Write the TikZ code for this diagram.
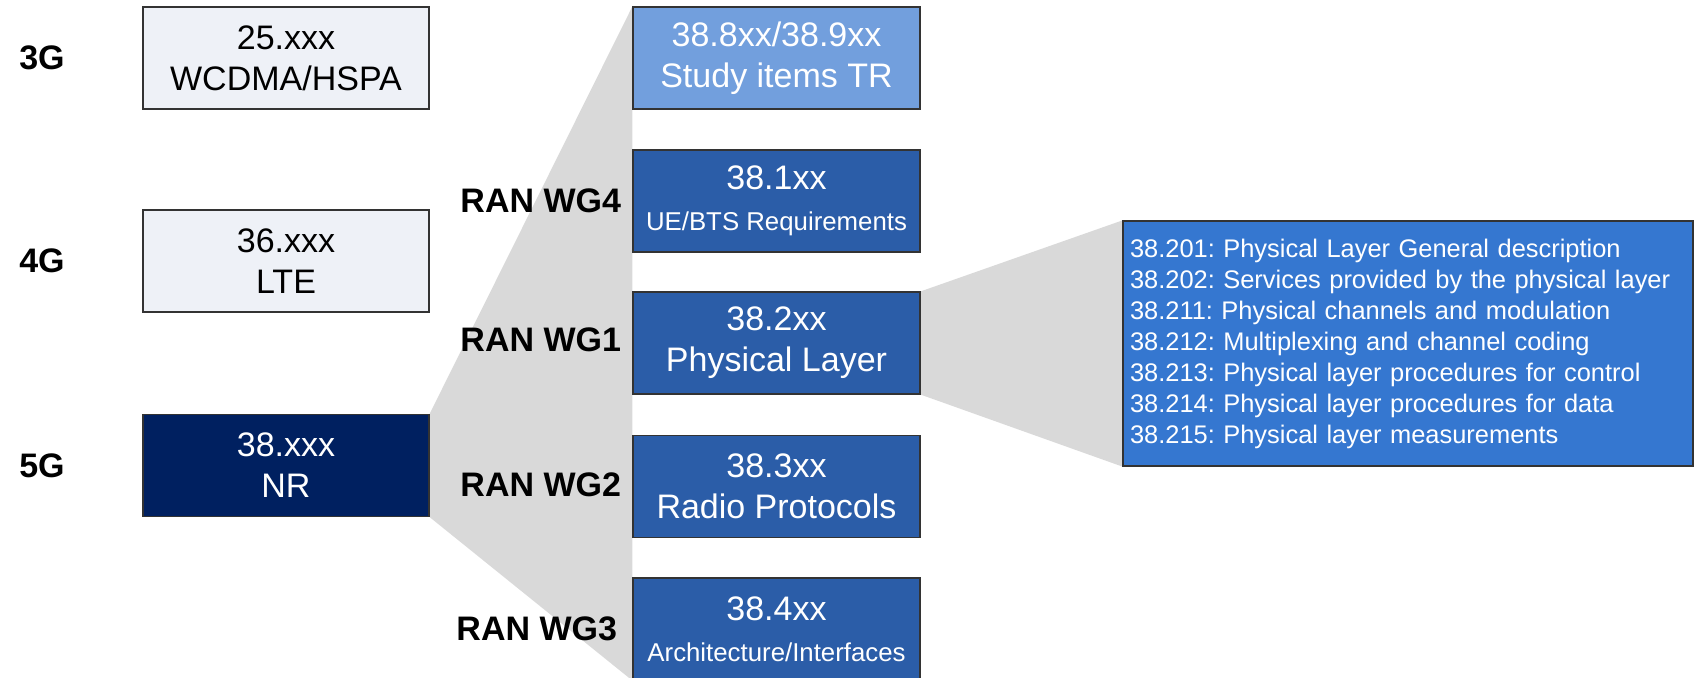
\documentclass[tikz,border=0pt]{standalone}
\usepackage{fontspec}
\setmainfont{Liberation Sans}
\usetikzlibrary{positioning,backgrounds}
\definecolor{oldfill}{HTML}{EEF1F7}
\definecolor{nrblue}{HTML}{002060}
\definecolor{siblue}{HTML}{729FDD}
\definecolor{wgblue}{HTML}{2B5DA8}
\definecolor{descblue}{HTML}{3577D0}
\definecolor{fangray}{HTML}{D9D9D9}
\newcommand{\mainfs}{\fontsize{17}{20.4}\selectfont}
\newcommand{\smallfs}{\fontsize{12.9}{15.5}\selectfont}
\newcommand{\descfs}{\fontsize{12.72}{15.5}\selectfont\frenchspacing}
\tikzset{
  genbox/.style={draw=black!80, line width=0.6pt, minimum width=143pt, minimum height=51pt, align=center, font=\mainfs, inner sep=0pt},
  oldbox/.style={genbox, fill=oldfill, text=black},
  nrbox/.style={genbox, fill=nrblue, text=white},
  specbox/.style={genbox, minimum width=143.5pt, fill=wgblue, text=white},
  grp/.style={font=\bfseries\mainfs, inner sep=0pt},
  fan/.style={fill=fangray, draw=none}
}
\begin{document}
\begin{tikzpicture}[x=0.5pt, y=-0.5pt]
\useasboundingbox (0,0) rectangle (1700,678);

% generations
\node[oldbox] (g3box) at (286,58) {25.xxx\\WCDMA/HSPA};
\node[oldbox] (g4box) at (286,261) {36.xxx\\LTE};
\node[nrbox] (g5box) at (286,465.5) {38.xxx\\NR};
\node[grp] (g3) at (42,58) {3G};
\node[grp] (g4) at (42,261) {4G};
\node[grp] (g5) at (42,465.5) {5G};

% 38 series
\node[specbox, fill=siblue] (s8) at (776.5,58) {38.8xx/38.9xx\\Study items TR};
\node[specbox] (s1) at (776.5,201) {38.1xx\\{\smallfs UE/BTS Requirements}};
\node[specbox] (s2) at (776.5,343) {38.2xx\\Physical Layer};
\node[specbox] (s3) at (776.5,486.5) {38.3xx\\Radio Protocols};
\node[specbox] (s4) at (776.5,629) {38.4xx\\{\smallfs Architecture/Interfaces}};

\node[grp, left=5.5pt of s1] (wg4) {RAN WG4};
\node[grp, left=5.5pt of s2, yshift=1.5pt] (wg1) {RAN WG1};
\node[grp, left=5.5pt of s3, yshift=0.7pt] (wg2) {RAN WG2};
\node[grp, left=7.5pt of s4] (wg3) {RAN WG3};

% physical layer specs
\node[draw=black!80, line width=0.6pt, fill=descblue, text=white, font=\descfs,
      minimum width=285pt, minimum height=122.5pt, text width=278pt,
      inner xsep=3.5pt, inner ysep=0pt, align=left] (phy) at (1408,343.5)
  {38.201: Physical Layer General description\\
   38.202: Services provided by the physical layer\\
   38.211: Physical channels and modulation\\
   38.212: Multiplexing and channel coding\\
   38.213: Physical layer procedures for control\\
   38.214: Physical layer procedures for data\\
   38.215: Physical layer measurements};

\begin{scope}[on background layer]
\fill[fan] (g5box.north east) -- (s8.north west) -- (s4.south west) -- (g5box.south east) -- cycle;
\fill[fan] (s2.north east) -- (phy.north west) -- (phy.south west) -- (s2.south east) -- cycle;
\end{scope}
\end{tikzpicture}
\end{document}
